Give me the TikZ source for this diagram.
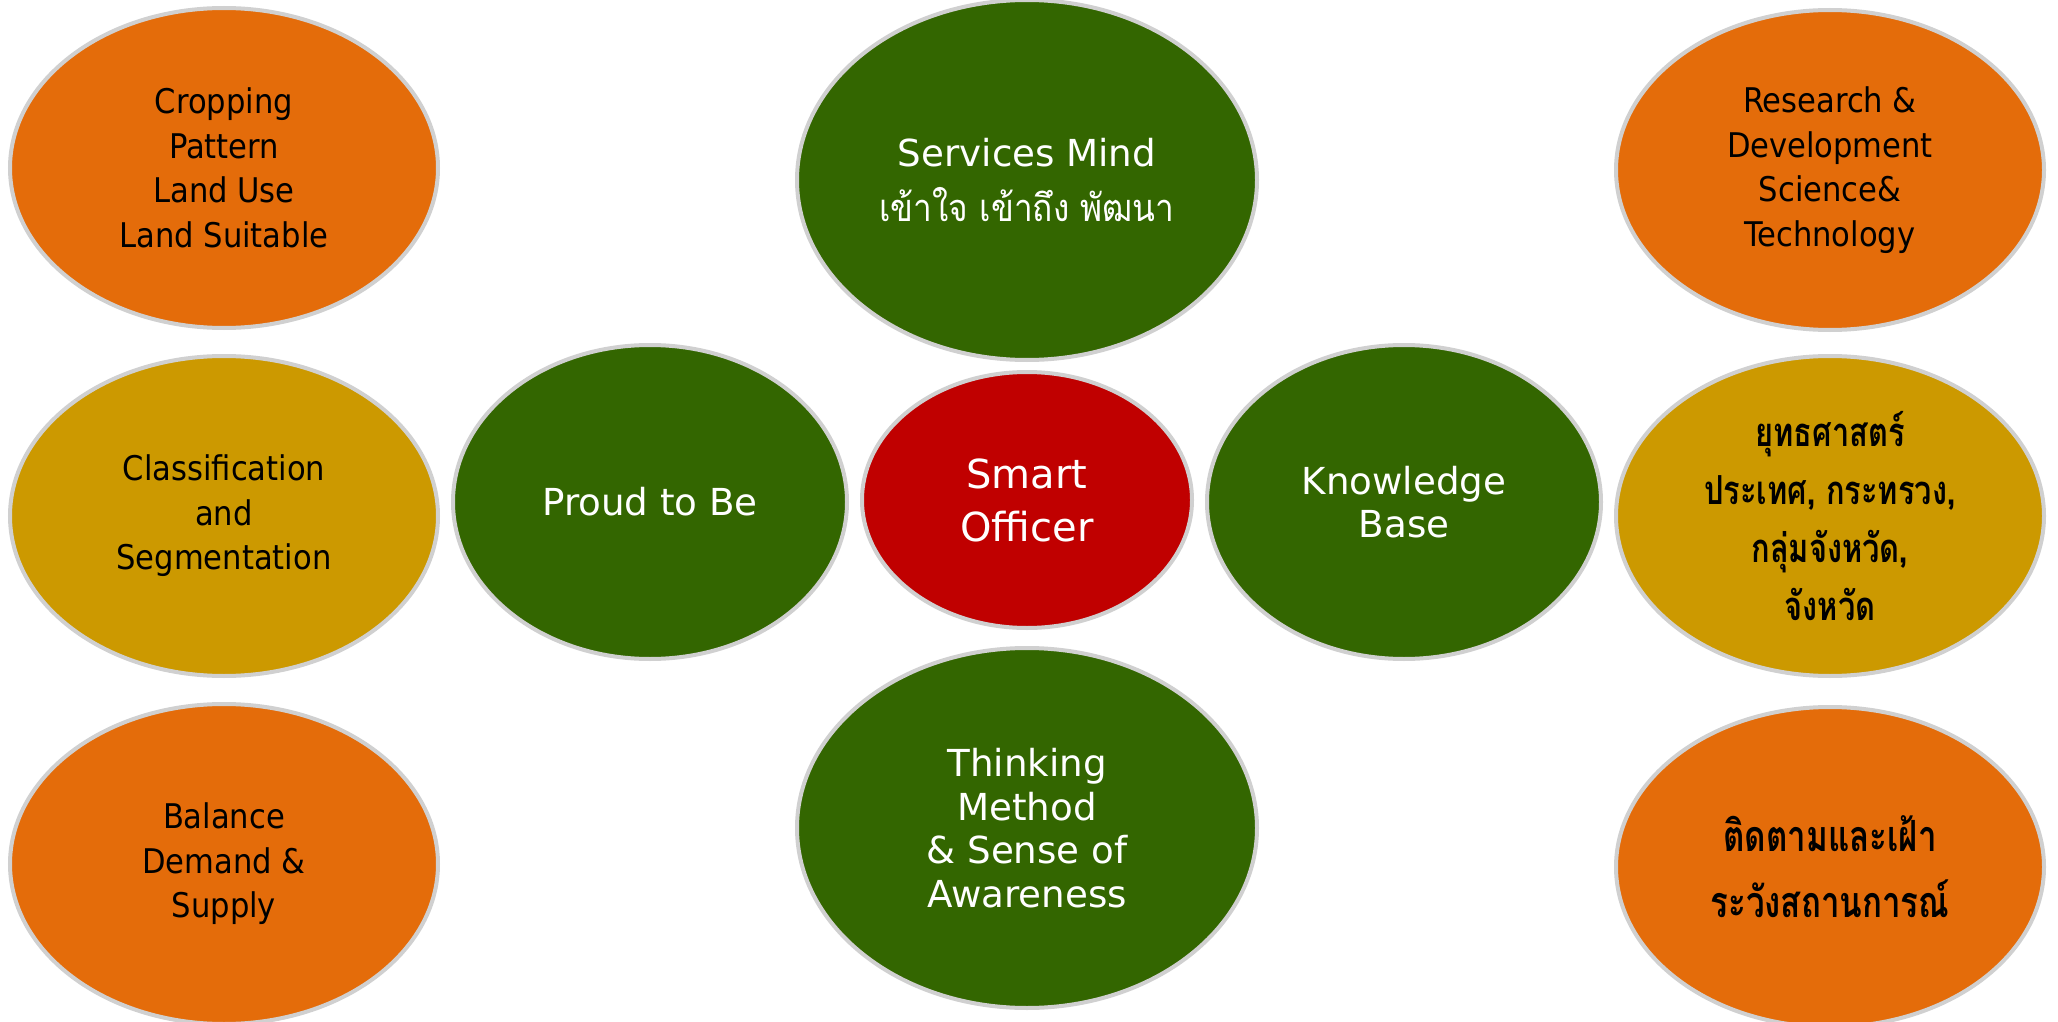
\documentclass[tikz,border=0pt]{standalone}
\usepackage{fontspec}
\setmainfont{DejaVu Sans}
\newfontfamily\narrowfont{DejaVu Sans Condensed}
\newfontfamily\thaifont[Script=Thai, FakeStretch=0.88]{Loma}
\newfontfamily\thaitight[Script=Thai, FakeStretch=0.77]{Loma}
\usetikzlibrary{shapes,positioning}
\definecolor{ringgray}{HTML}{D0D0D0}
\definecolor{deeporange}{HTML}{E46C0A}
\definecolor{darkgold}{HTML}{CC9900}
\definecolor{leafgreen}{HTML}{336600}
\definecolor{corered}{HTML}{C00000}
\newcommand{\outerfont}{\narrowfont\fontsize{17}{22.3}\selectfont}
\newcommand{\innerfont}{\fontsize{18.6}{21.8}\selectfont}
\tikzstyle{bubble}=[draw=ringgray, line width=2pt, ellipse, inner sep=0, align=center]
\tikzstyle{outer}=[bubble, minimum width=214pt, minimum height=160pt, text=black, font=\outerfont]
\tikzstyle{orangebox}=[outer, fill=deeporange]
\tikzstyle{goldbox}=[outer, fill=darkgold]
\tikzstyle{greenbig}=[bubble, fill=leafgreen, text=white, minimum width=230pt, minimum height=180pt, font=\innerfont]
\tikzstyle{greenside}=[bubble, fill=leafgreen, text=white, minimum width=197pt, minimum height=157pt, font=\innerfont]
\tikzstyle{corebox}=[bubble, fill=corered, text=white, minimum width=165pt, minimum height=128pt, font=\fontsize{20}{26.5}\selectfont]

\begin{document}
\begin{tikzpicture}[x=0.5pt, y=-0.5pt]
  \useasboundingbox (0,0) rectangle (2058,1022);

  % left column
  \node[orangebox] (crop) at (224,168) {Cropping\\Pattern\\Land Use\\Land Suitable};
  \node[goldbox] (class) at (224,516) {Classification\\and\\Segmentation};
  \node[orangebox] (balance) at (224,864) {Balance\\Demand \&\\Supply};

  % centre cross
  \node[greenbig] (service) at (1027,180) {Services Mind\\[6pt]{\thaifont\fontsize{19}{24}\selectfont เข้าใจ เข้าถึง พัฒนา}};
  \node[greenside] (proud) at (650,502) {Proud to Be};
  \node[corebox] (smart) at (1027,500) {Smart\\Officer};
  \node[greenside] (know) at (1404,502) {Knowledge\\Base};
  \node[greenbig] (think) at (1027,828) {Thinking\\Method\\\& Sense of\\Awareness};

  % right column
  \node[orangebox] (research) at (1830,170) {Research \&\\Development\\Science\&\\Technology};
  \node[goldbox, font=\thaitight\bfseries\fontsize{20}{29}\selectfont] (strategy) at (1830,516)
    {ยุทธศาสตร์\\ประเทศ, กระทรวง,\\กลุ่มจังหวัด,\\จังหวัด};
  \node[orangebox, font=\thaitight\bfseries\fontsize{21.5}{33}\selectfont] (watch) at (1830,867)
    {ติดตามและเฝ้า\\ระวังสถานการณ์};
\end{tikzpicture}
\end{document}
